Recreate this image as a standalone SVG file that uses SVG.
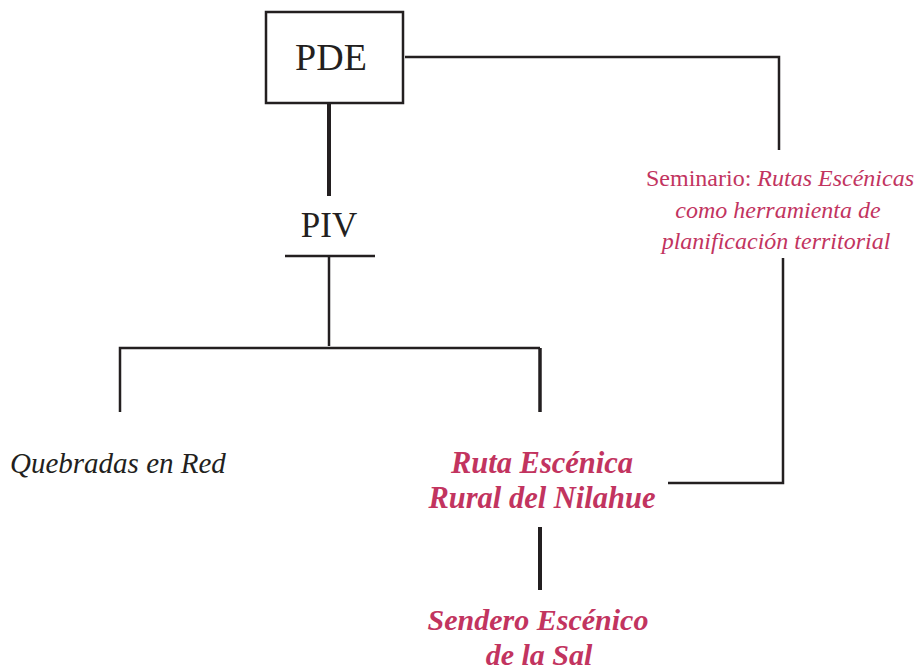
<svg xmlns="http://www.w3.org/2000/svg" width="918" height="670" viewBox="0 0 918 670">
<style>
text{font-family:"Liberation Serif","Times New Roman",serif;}
.blk{fill:#231f20;}
.red{fill:#c2345f;}
.it{font-style:italic;}
.bi{font-style:italic;font-weight:bold;}
.ln{stroke:#231f20;fill:none;stroke-width:2.5;}
.th{stroke:#231f20;fill:none;stroke-width:4;}
</style>
<rect width="918" height="670" fill="#ffffff"/>
<g id="connectors">
<polyline class="ln" points="405,57 779,57 779,150"/>
<line class="th" x1="329" y1="104" x2="329" y2="196"/>
<line class="ln" x1="285" y1="256" x2="375" y2="256"/>
<line class="ln" x1="329" y1="256" x2="329" y2="346"/>
<polyline class="ln" points="120,412 120,348 540,348"/>
<line class="ln" x1="540" y1="348" x2="540" y2="412" style="stroke-width:3.5"/>
<polyline class="ln" points="668,483 783,483 783,258"/>
<line class="th" x1="540" y1="527" x2="540" y2="590"/>
</g>
<g id="pde">
<rect x="266" y="12" width="137" height="91" fill="none" stroke="#231f20" stroke-width="2.5"/>
<text class="blk" x="331" y="70" font-size="38" text-anchor="middle">PDE</text>
</g>
<g id="piv">
<text class="blk" x="329" y="237" font-size="35" text-anchor="middle">PIV</text>
</g>
<g id="seminario">
<text class="red" x="780" y="186" font-size="24" text-anchor="middle">Seminario: <tspan class="it">Rutas Escénicas</tspan></text>
<text class="red it" x="778" y="218" font-size="24" text-anchor="middle">como herramienta de</text>
<text class="red it" x="776" y="249" font-size="24" text-anchor="middle">planificación territorial</text>
</g>
<g id="quebradas">
<text class="blk it" x="10" y="473" font-size="29">Quebradas en Red</text>
</g>
<g id="ruta">
<text class="red bi" x="542" y="473" font-size="30.5" text-anchor="middle">Ruta Escénica</text>
<text class="red bi" x="542" y="508" font-size="30.5" text-anchor="middle">Rural del Nilahue</text>
</g>
<g id="sendero">
<text class="red bi" x="538" y="630" font-size="30" text-anchor="middle">Sendero Escénico</text>
<text class="red bi" x="539" y="665" font-size="30" text-anchor="middle">de la Sal</text>
</g>
</svg>
